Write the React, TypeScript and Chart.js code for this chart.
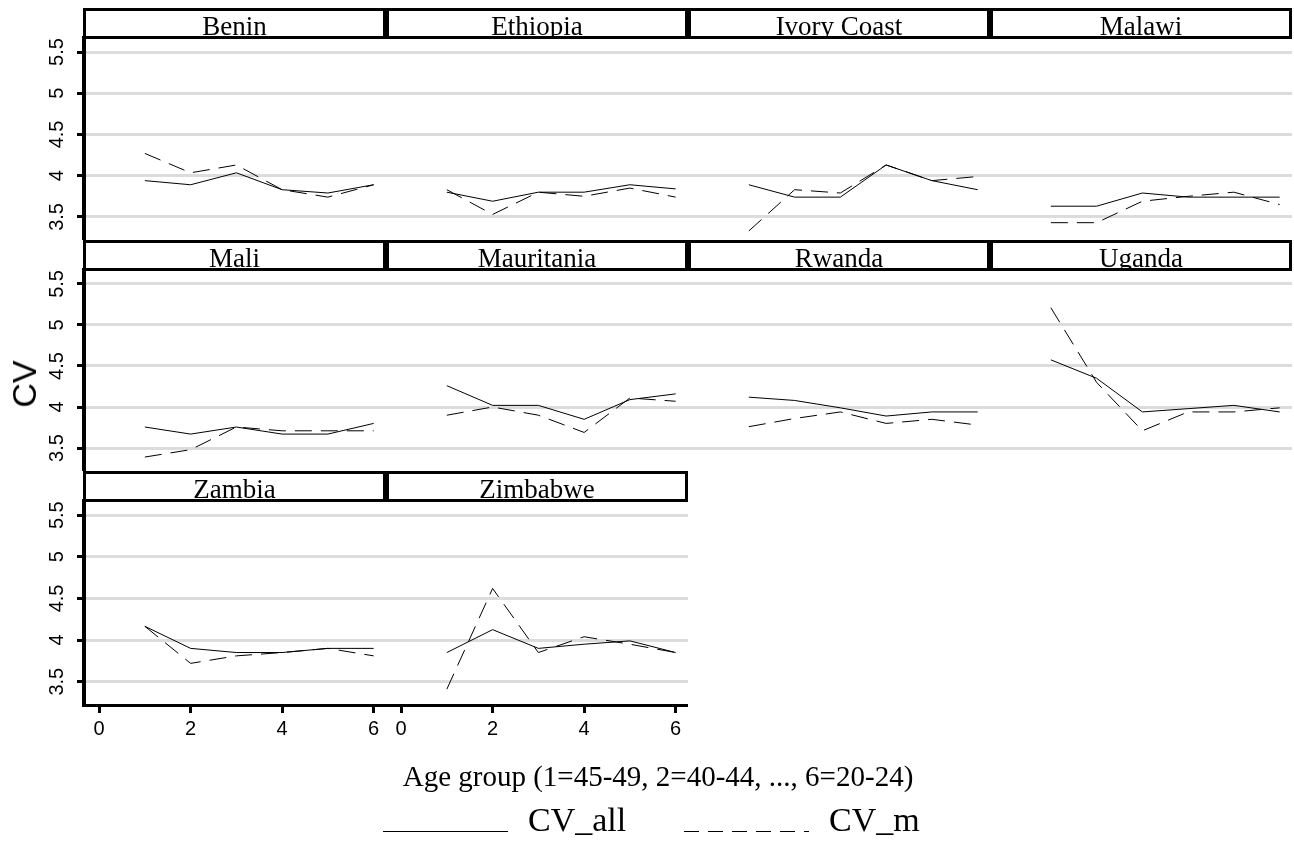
import React, { useEffect, useRef } from 'react';
import { Chart, registerables } from 'chart.js';

Chart.register(...registerables);

// ---------- data ----------
const countries = ['Benin', 'Ethiopia', 'Ivory Coast', 'Malawi', 'Mali', 'Mauritania', 'Rwanda', 'Uganda', 'Zambia', 'Zimbabwe'];
const ageGroups = [1, 2, 3, 4, 5, 6];

const cvAllBenin = [3.94, 3.89, 4.035, 3.83, 3.79, 3.89];
const cvMBenin = [4.27, 4.035, 4.13, 3.83, 3.74, 3.89];
const cvAllEthiopia = [3.8, 3.69, 3.8, 3.8, 3.89, 3.84];
const cvMEthiopia = [3.83, 3.53, 3.8, 3.75, 3.85, 3.74];
const cvAllIvoryCoast = [3.89, 3.74, 3.74, 4.13, 3.94, 3.83];
const cvMIvoryCoast = [3.33, 3.83, 3.79, 4.13, 3.94, 3.99];
const cvAllMalawi = [3.63, 3.63, 3.79, 3.74, 3.74, 3.74];
const cvMMalawi = [3.43, 3.43, 3.69, 3.75, 3.8, 3.65];
const cvAllMali = [3.756, 3.67, 3.756, 3.67, 3.67, 3.8];
const cvMMali = [3.39, 3.48, 3.756, 3.71, 3.71, 3.71];
const cvAllMauritania = [4.26, 4.02, 4.02, 3.85, 4.09, 4.16];
const cvMMauritania = [3.9, 4.0, 3.9, 3.69, 4.11, 4.07];
const cvAllRwanda = [4.12, 4.08, 3.99, 3.89, 3.94, 3.94];
const cvMRwanda = [3.76, 3.86, 3.94, 3.8, 3.85, 3.78];
const cvAllUganda = [4.575, 4.35, 3.94, 3.98, 4.02, 3.94];
const cvMUganda = [5.21, 4.3, 3.71, 3.94, 3.94, 3.99];
const cvAllZambia = [4.165, 3.9, 3.85, 3.85, 3.9, 3.9];
const cvMZambia = [4.165, 3.72, 3.81, 3.85, 3.9, 3.81];
const cvAllZimbabwe = [3.85, 4.125, 3.9, 3.95, 3.99, 3.85];
const cvMZimbabwe = [3.41, 4.62, 3.85, 4.04, 3.95, 3.85];

const cvAll = [cvAllBenin, cvAllEthiopia, cvAllIvoryCoast, cvAllMalawi, cvAllMali, cvAllMauritania, cvAllRwanda, cvAllUganda, cvAllZambia, cvAllZimbabwe];
const cvM = [cvMBenin, cvMEthiopia, cvMIvoryCoast, cvMMalawi, cvMMali, cvMMauritania, cvMRwanda, cvMUganda, cvMZambia, cvMZimbabwe];

const yTickValues = [3.5, 4, 4.5, 5, 5.5];
const xTickValues = [0, 2, 4, 6];
const seriesNames = ['CV_all', 'CV_m'];
const xTitle = 'Age group (1=45-49, 2=40-44, ..., 6=20-24)';
const yTitle = 'CV';

const Y_MIN = 3.22;
const Y_MAX = 5.67;
const X_MIN = -0.33;
const X_MAX = 6.27;

// ---------- layout ----------
const colLeft = [83, 386, 688, 990];
const colRight = [386, 688, 990, 1292];
const rowTop = [8, 240, 471];
const plotH = [202, 201, 204];
const HEADER = 30;
const XAXIS_H = 62;

function Panel({ idx }: { idx: number }) {
  const ref = useRef<HTMLCanvasElement | null>(null);
  const r = Math.floor(idx / 4);
  const c = idx % 4;
  const isLeft = c === 0;
  const isBottom = r === 2;
  const left = isLeft ? 0 : colLeft[c];
  const width = colRight[c] - left;
  const height = HEADER + plotH[r] + (isBottom ? XAXIS_H : 0);

  useEffect(() => {
    if (!ref.current) return;
    const headerPlugin = {
      id: 'strip' + idx,
      afterDraw(chart: any) {
        const ctx = chart.ctx as CanvasRenderingContext2D;
        ctx.save();
        const bx = isLeft ? 83 : 0;
        const bw = chart.width - bx;
        const bh = 31;
        ctx.fillStyle = '#fff';
        ctx.fillRect(bx, 0, bw, bh);
        ctx.save();
        ctx.beginPath();
        ctx.rect(bx, 0, bw, bh);
        ctx.clip();
        ctx.fillStyle = '#000';
        ctx.font = '27px "Liberation Serif", "Times New Roman", serif';
        ctx.textAlign = 'center';
        ctx.textBaseline = 'alphabetic';
        ctx.fillText(countries[idx], bx + bw / 2, 26.5);
        ctx.restore();
        ctx.strokeStyle = '#000';
        ctx.lineWidth = 3;
        ctx.strokeRect(bx + 1.5, 1.5, bw - 3, bh - 3);
        if (isLeft) {
          const ys = chart.scales.y;
          ctx.fillStyle = '#000';
          ctx.font = '20px "Liberation Sans", Arial, sans-serif';
          ctx.textAlign = 'center';
          ctx.textBaseline = 'middle';
          for (const v of yTickValues) {
            const py = ys.getPixelForValue(v);
            ctx.save();
            ctx.translate(57, py);
            ctx.rotate(-Math.PI / 2);
            ctx.fillText(String(v), 0, 0);
            ctx.restore();
          }
        }
        ctx.restore();
      },
    };

    const chart = new Chart(ref.current, {
      type: 'line',
      data: {
        datasets: [
          {
            label: seriesNames[0],
            data: ageGroups.map((x, k) => ({ x, y: cvAll[idx][k] })),
            borderColor: '#000',
            borderWidth: 1,
            pointRadius: 0,
            fill: false,
            tension: 0,
          },
          {
            label: seriesNames[1],
            data: ageGroups.map((x, k) => ({ x, y: cvM[idx][k] })),
            borderColor: '#000',
            borderWidth: 1,
            borderDash: [17, 9],
            pointRadius: 0,
            fill: false,
            tension: 0,
          },
        ],
      },
      options: {
        animation: false,
        responsive: false,
        devicePixelRatio: 1,
        events: [],
        layout: { padding: { top: HEADER, left: 0, right: 0, bottom: 0 } },
        plugins: { legend: { display: false }, tooltip: { enabled: false }, title: { display: false } },
        scales: {
          x: {
            type: 'linear',
            min: X_MIN,
            max: X_MAX,
            display: isBottom,
            afterBuildTicks: (s: any) => {
              s.ticks = xTickValues.map((v) => ({ value: v }));
            },
            afterFit: (s: any) => {
              if (isBottom) s.height = XAXIS_H;
            },
            grid: { drawOnChartArea: false, drawTicks: true, tickLength: 8, tickWidth: 3, tickColor: '#000' },
            border: { display: true, color: '#000', width: 3 },
            ticks: {
              autoSkip: false,
              maxRotation: 0,
              minRotation: 0,
              color: '#000',
              padding: 4,
              font: { family: '"Liberation Sans", Arial, sans-serif', size: 20 },
              callback: (v: any) => String(v),
            },
          },
          y: {
            type: 'linear',
            min: Y_MIN,
            max: Y_MAX,
            afterBuildTicks: (s: any) => {
              s.ticks = yTickValues.map((v) => ({ value: v }));
            },
            afterFit: (s: any) => {
              s.width = isLeft ? 84 : 0;
            },
            grid: { color: '#dcdcdc', lineWidth: 3, drawTicks: isLeft, tickLength: 7, tickWidth: 3, tickColor: '#000' },
            border: { display: isLeft, color: '#000', width: 4 },
            ticks: { display: false },
          },
        },
      } as any,
      plugins: [headerPlugin],
    });
    return () => chart.destroy();
  }, [idx]);

  return (
    <canvas
      ref={ref}
      width={width}
      height={height}
      style={{ position: 'absolute', left, top: rowTop[r], width, height, display: 'block' }}
    />
  );
}

export default function App() {
  const serif = '"Liberation Serif", "Times New Roman", serif';
  return (
    <div style={{ position: 'absolute', left: 0, top: 0, width: 1294, height: 846, background: '#fff', overflow: 'hidden' }}>
      {countries.map((_, i) => (
        <Panel key={i} idx={i} />
      ))}
      <div
        style={{
          position: 'absolute',
          left: 23.5,
          top: 384,
          transform: 'translate(-50%, -50%) rotate(-90deg)',
          font: '34px "Liberation Sans", Arial, sans-serif',
          lineHeight: '34px',
          whiteSpace: 'nowrap',
          color: '#000',
        }}
      >
        {yTitle}
      </div>
      <div
        style={{
          position: 'absolute',
          left: 658,
          top: 762,
          transform: 'translateX(-50%)',
          fontFamily: serif,
          fontSize: '29px',
          lineHeight: '29px',
          whiteSpace: 'nowrap',
          color: '#000',
        }}
      >
        {xTitle}
      </div>
      <div style={{ position: 'absolute', left: 383, top: 831, width: 125, height: 1, background: '#000' }} />
      <div style={{ position: 'absolute', left: 528, top: 803, fontFamily: serif, fontSize: '34px', lineHeight: '34px', whiteSpace: 'nowrap', color: '#000' }}>
        {seriesNames[0]}
      </div>
      <div
        style={{
          position: 'absolute',
          left: 684,
          top: 831,
          width: 125,
          height: 1,
          background: 'repeating-linear-gradient(to right, #000 0px, #000 15px, transparent 15px, transparent 24px)',
        }}
      />
      <div style={{ position: 'absolute', left: 829, top: 803, fontFamily: serif, fontSize: '34px', lineHeight: '34px', whiteSpace: 'nowrap', color: '#000' }}>
        {seriesNames[1]}
      </div>
    </div>
  );
}
